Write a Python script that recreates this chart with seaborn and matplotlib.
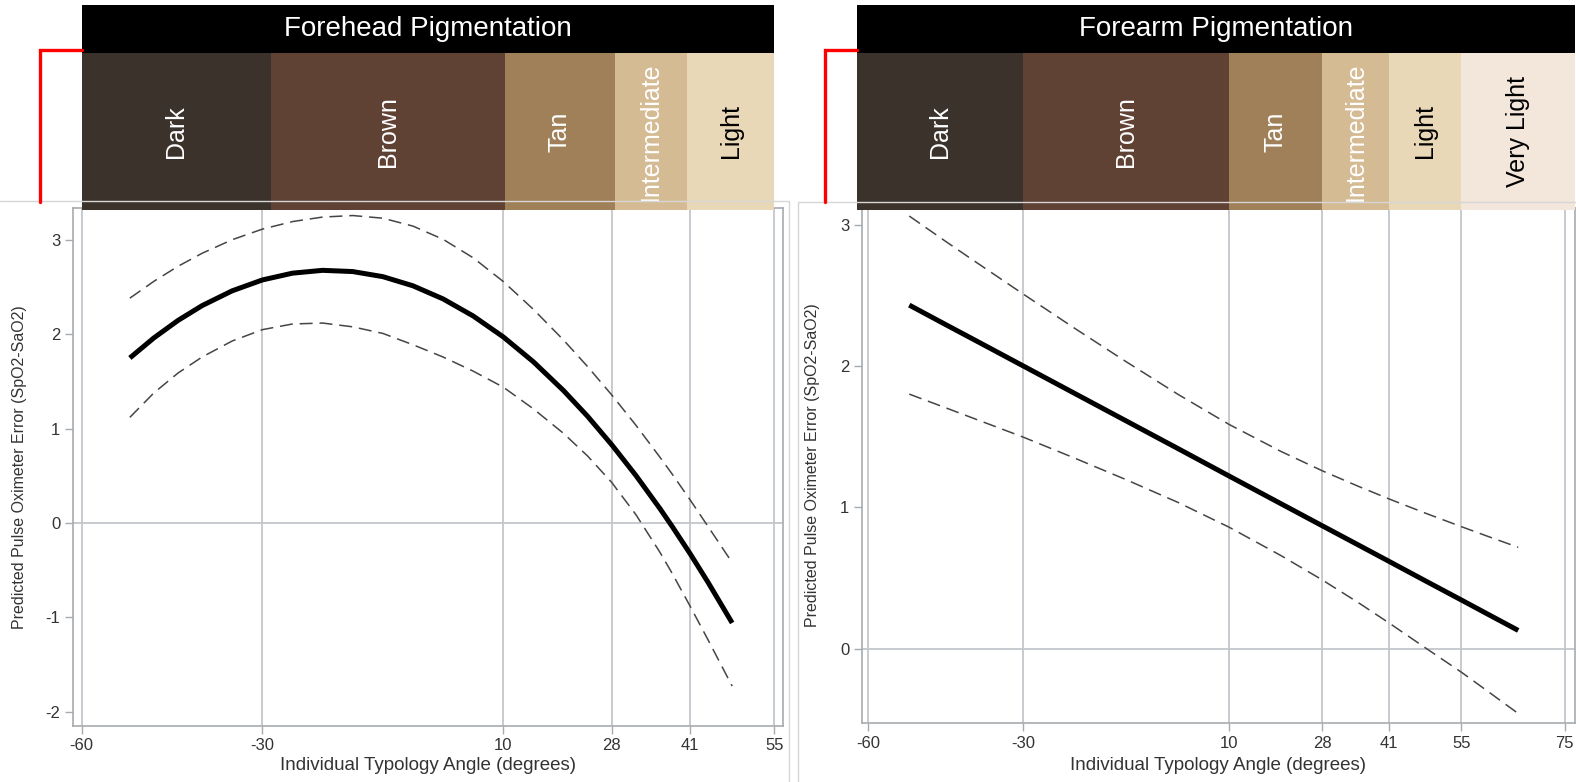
import matplotlib
matplotlib.use("Agg")
import matplotlib.pyplot as plt
import seaborn as sns
from matplotlib import font_manager
from matplotlib.lines import Line2D

W, H = 1576, 782

# forehead model: predicted error and 95% CI
forehead_ita = [-52, -48, -44, -40, -35, -30, -25, -20, -15, -10, -5, 0, 5, 10,
                15, 20, 24, 28, 32, 36, 38, 41, 44, 48]
forehead_fit = [1.750, 1.963, 2.148, 2.305, 2.462, 2.577, 2.649, 2.679, 2.666, 2.612, 2.515, 2.376,
                2.195, 1.973, 1.709, 1.404, 1.131, 0.830, 0.505, 0.153, -0.033, -0.324, -0.630, -1.060]
forehead_upper = [2.384, 2.563, 2.722, 2.860, 3.004, 3.116, 3.196, 3.244, 3.260, 3.232, 3.148, 3.008,
                  2.812, 2.560, 2.265, 1.940, 1.658, 1.358, 1.038, 0.698, 0.522, 0.247, -0.038, -0.420]
forehead_lower = [1.12, 1.38, 1.59, 1.76, 1.93, 2.05, 2.11, 2.12, 2.08, 2.01, 1.89, 1.76, 1.61, 1.44,
                  1.21, 0.95, 0.71, 0.43, 0.09, -0.31, -0.53, -0.88, -1.24, -1.73]

# forearm model
forearm_ita = [-52, -45, -40, -30, -20, -10, 0, 10, 20, 28, 35, 41, 48, 55, 60, 66]
forearm_fit = [2.430, 2.293, 2.196, 2.001, 1.806, 1.611, 1.416, 1.220, 1.025, 0.869, 0.733, 0.616,
               0.479, 0.343, 0.245, 0.128]
forearm_upper = [3.060, 2.882, 2.757, 2.510, 2.267, 2.030, 1.800, 1.585, 1.395, 1.258, 1.148, 1.058,
                 0.958, 0.862, 0.795, 0.716]
forearm_lower = [1.800, 1.704, 1.635, 1.497, 1.348, 1.195, 1.035, 0.858, 0.658, 0.486, 0.325, 0.180,
                 0.005, -0.168, -0.300, -0.460]

forehead_xticks = [-60, -30, 10, 28, 41, 55]
forearm_xticks = [-60, -30, 10, 28, 41, 55, 75]
forehead_yticks = [-2, -1, 0, 1, 2, 3]
forearm_yticks = [0, 1, 2, 3]

forehead_cats = ["Dark", "Brown", "Tan", "Intermediate", "Light"]
forehead_edges = [-60, -28.6, 10.3, 28.5, 40.5, 55]
forearm_cats = ["Dark", "Brown", "Tan", "Intermediate", "Light", "Very Light"]
forearm_edges = [-62.1, -30, 10, 28, 41, 55, 77]

band_color = {"Dark": "#3c322c", "Brown": "#604235", "Tan": "#a08058",
              "Intermediate": "#d5bb94", "Light": "#e9d8b7", "Very Light": "#f3e6da"}
label_color = {"Dark": "white", "Brown": "white", "Tan": "white",
               "Intermediate": "white", "Light": "black", "Very Light": "black"}

sns.set_style("white")
names = {f.name for f in font_manager.fontManager.ttflist}
NARROW = "Liberation Sans Narrow" if "Liberation Sans Narrow" in names else "Liberation Sans"
plt.rcParams["font.family"] = ["Liberation Sans", "DejaVu Sans"]
plt.rcParams["axes.unicode_minus"] = False

GRID = "#c3c7cb"
SPINE = "#a7abaf"


def px_rect(l, t, r, b):
    return [l / W, 1 - b / H, (r - l) / W, (b - t) / H]


def draw_panel(fig, box, xlim, ylim, ita, fit, upper, lower, xticks, yticks,
               cats, edges, title, ylab_x):
    l, t, r, b = box
    ax = fig.add_axes(px_rect(l, t, r, b))
    ax.set_axisbelow(True)
    for yy in (upper, lower):
        sns.lineplot(x=ita, y=yy, ax=ax, color="#454545", linewidth=1.1,
                     linestyle=(0, (8.5, 4.5)), sort=False)
    sns.lineplot(x=ita, y=fit, ax=ax, color="black", linewidth=3.6,
                 sort=False, solid_capstyle="butt", solid_joinstyle="round")
    ax.axhline(0, color=GRID, lw=1.3, zorder=0.5)
    ax.set_xlim(*xlim)
    ax.set_ylim(*ylim)
    ax.set_xticks(xticks)
    ax.set_yticks(yticks)
    ax.grid(axis="x", color=GRID, lw=1.3)
    ax.grid(axis="y", visible=False)
    for s in ax.spines.values():
        s.set_color(SPINE)
        s.set_linewidth(1.2)
    ax.tick_params(axis="both", direction="out", length=5.5, width=1, color=SPINE,
                   labelcolor="#333333", bottom=True, left=True)
    for lab in ax.get_xticklabels() + ax.get_yticklabels():
        lab.set_fontfamily(NARROW)
        lab.set_fontsize(12)
    ax.set_xlabel("Individual Typology Angle (degrees)", fontfamily=NARROW,
                  fontsize=13.5, color="#333333", va="center")
    ax.xaxis.set_label_coords(0.5, (b - 765) / (b - t))
    ax.set_ylabel("Predicted Pulse Oximeter Error (SpO2-SaO2)", fontsize=11.5,
                  color="#333333", va="center")
    ax.yaxis.set_label_coords((ylab_x - l) / (r - l), 0.5)

    # pigmentation header
    hd = fig.add_axes(px_rect(l, 5, r, 210))
    hd.set_xlim(*xlim)
    hd.set_ylim(0, 1)
    hd.axis("off")
    split = 157 / 205
    span = hd.axvspan(edges[0], edges[-1], ymin=split, ymax=1, color="black", lw=0)
    span.set_clip_on(False)
    for c, x0, x1 in zip(cats, edges[:-1], edges[1:]):
        span = hd.axvspan(x0, x1, ymin=0, ymax=split, color=band_color[c], lw=0)
        span.set_clip_on(False)
        hd.text((x0 + x1) / 2, split / 2, c, rotation=90, ha="center", va="center",
                fontsize=18, color=label_color[c])
    hd.text((edges[0] + edges[-1]) / 2, (1 + split) / 2, title, ha="center",
            va="center", fontsize=20, color="white")
    return ax


fig = plt.figure(figsize=(W / 100, H / 100), dpi=100)

# faint outer frames of the two source graphs
for pts in ([(0, 201), (789, 201), (789, 782)], [(798, 782), (798, 202), (1576, 202)]):
    xs = [p[0] / W for p in pts]
    ys = [1 - p[1] / H for p in pts]
    fig.add_artist(Line2D(xs, ys, color="#d6d6d6", lw=1))

draw_panel(fig, (73, 208, 783, 726), (-61.44, 56.44), (-2.153, 3.34),
           forehead_ita, forehead_fit, forehead_upper, forehead_lower,
           forehead_xticks, forehead_yticks, forehead_cats, forehead_edges,
           "Forehead Pigmentation", 20)
draw_panel(fig, (862, 208, 1575, 723), (-61.16, 77.0), (-0.527, 3.117),
           forearm_ita, forearm_fit, forearm_upper, forearm_lower,
           forearm_xticks, forearm_yticks, forearm_cats, forearm_edges,
           "Forearm Pigmentation", 813)

# red brackets
for pts in ([(82, 50), (40, 50), (40, 202)], [(857, 50), (825, 50), (825, 202)]):
    xs = [p[0] / W for p in pts]
    ys = [1 - p[1] / H for p in pts]
    fig.add_artist(Line2D(xs, ys, color="red", lw=2.4, solid_joinstyle="miter"))

fig.savefig("out.png", dpi=100)
